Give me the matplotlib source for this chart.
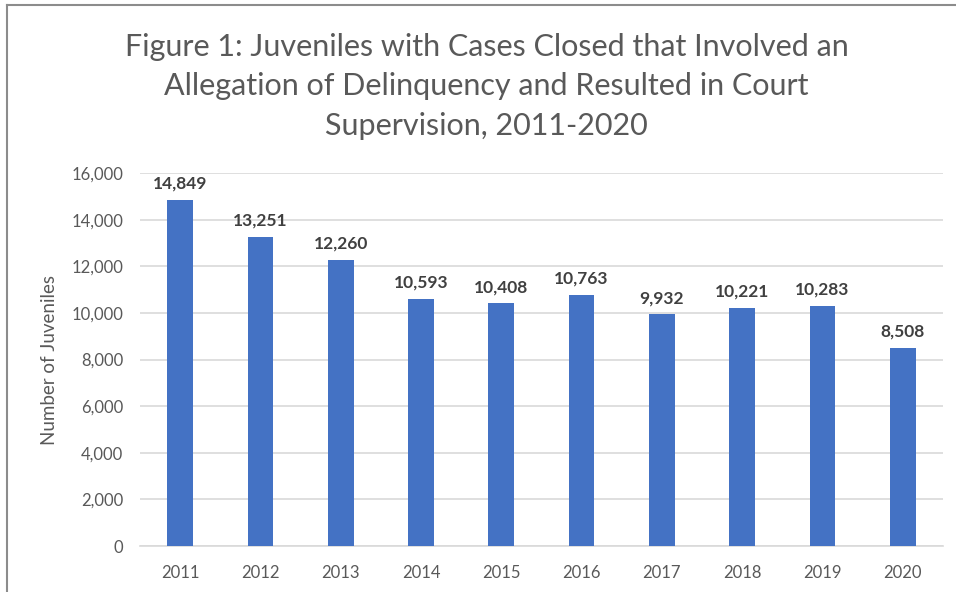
import matplotlib.pyplot as plt
from matplotlib.lines import Line2D
from matplotlib.ticker import FuncFormatter

years = ["2011", "2012", "2013", "2014", "2015", "2016", "2017", "2018", "2019", "2020"]
juveniles = [14849, 13251, 12260, 10593, 10408, 10763, 9932, 10221, 10283, 8508]

title = ("Figure 1: Juveniles with Cases Closed that Involved an\n"
         "Allegation of Delinquency and Resulted in Court\n"
         "Supervision, 2011-2020")

plt.rcParams['font.family'] = ['Lato', 'DejaVu Sans']

fig = plt.figure(figsize=(9.56, 5.92), dpi=100)
ax = fig.add_axes([0.1464, 0.0777, 0.84, 0.630])

x = range(len(years))
ax.bar(x, juveniles, width=0.32, color="#4472c4", zorder=3)

for xi, v in zip(x, juveniles):
    ax.annotate(f"{v:,}", (xi, v), xytext=(0, 6), textcoords="offset points",
                ha="center", va="bottom", fontsize=12.5, fontweight="bold",
                color="#404040")

ax.set_xlim(-0.5, len(years) - 0.5)
ax.set_ylim(0, 16000)
ax.set_yticks(range(0, 16001, 2000))
ax.yaxis.set_major_formatter(FuncFormatter(lambda v, p: f"{int(v):,}"))
ax.set_xticks(list(x))
ax.set_xticklabels(years)
ax.tick_params(axis="both", length=0, labelsize=12, labelcolor="#595959")
ax.tick_params(axis="x", pad=14)
ax.tick_params(axis="y", pad=12)
ax.grid(axis="y", color="#d9d9d9", linewidth=1.2, zorder=0)
for side in ["top", "right", "left"]:
    ax.spines[side].set_visible(False)
ax.spines["bottom"].set_color("#d9d9d9")
ax.spines["bottom"].set_linewidth(1.2)

ax.set_ylabel("Number of Juveniles", fontsize=13.5, color="#595959", labelpad=10)

fig.text(0.509, 0.945, title, ha="center", va="top", fontsize=22,
         color="#595959", linespacing=1.5)

# outer chart frame, top and left edges
fig.add_artist(Line2D([0.0073, 0.999], [0.9916, 0.9916], color="#8c8c8c",
                      linewidth=1.5, transform=fig.transFigure))
fig.add_artist(Line2D([0.0073, 0.0073], [0.0, 0.9916], color="#8c8c8c",
                      linewidth=1.5, transform=fig.transFigure))

fig.savefig("out.png", dpi=100)
